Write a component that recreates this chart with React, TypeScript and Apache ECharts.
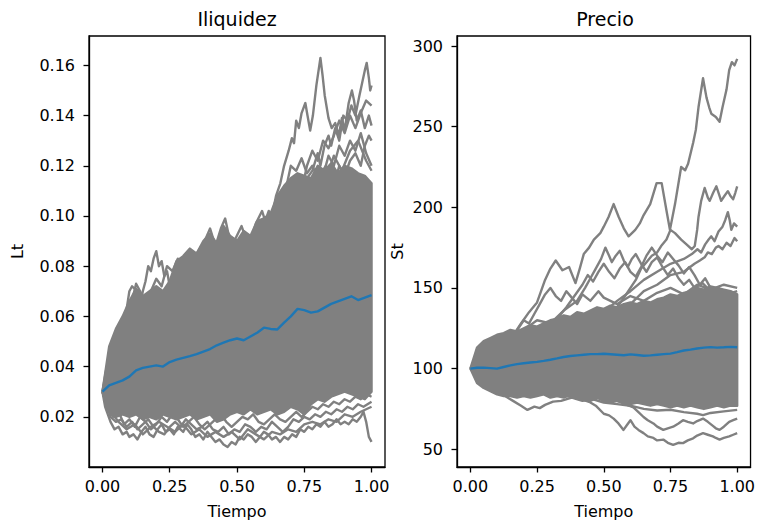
import React, { useEffect, useRef } from "react";
import * as echarts from "echarts";

// time grid
const T = [0, 0.025, 0.05, 0.075, 0.1, 0.125, 0.15, 0.175, 0.2, 0.225, 0.25, 0.275, 0.3, 0.325, 0.35, 0.375, 0.4, 0.425, 0.45, 0.475, 0.5, 0.525, 0.55, 0.575, 0.6, 0.625, 0.65, 0.675, 0.7, 0.725, 0.75, 0.775, 0.8, 0.825, 0.85, 0.875, 0.9, 0.925, 0.95, 0.975, 1];

// Iliquidez: dense envelope + mean
const lUpper = [0.030, 0.048, 0.055, 0.060, 0.066, 0.071, 0.068, 0.070, 0.072, 0.070, 0.074, 0.082, 0.084, 0.087, 0.085, 0.090, 0.093, 0.089, 0.096, 0.092, 0.090, 0.094, 0.092, 0.098, 0.099, 0.101, 0.108, 0.112, 0.115, 0.117, 0.116, 0.115, 0.120, 0.118, 0.121, 0.117, 0.120, 0.119, 0.117, 0.116, 0.113];
const lLower = [0.030, 0.022, 0.020, 0.021, 0.020, 0.021, 0.019, 0.020, 0.019, 0.021, 0.020, 0.019, 0.020, 0.021, 0.019, 0.020, 0.021, 0.018, 0.019, 0.021, 0.022, 0.021, 0.023, 0.021, 0.022, 0.023, 0.021, 0.022, 0.024, 0.023, 0.021, 0.025, 0.027, 0.026, 0.028, 0.029, 0.030, 0.029, 0.028, 0.027, 0.030];
const lMean = [0.030, 0.0325, 0.0335, 0.0345, 0.036, 0.0385, 0.0395, 0.040, 0.0405, 0.040, 0.0418, 0.0428, 0.0435, 0.0442, 0.045, 0.046, 0.047, 0.0485, 0.0495, 0.0505, 0.0512, 0.0505, 0.052, 0.0535, 0.0555, 0.055, 0.0548, 0.0575, 0.060, 0.063, 0.0625, 0.0615, 0.062, 0.0635, 0.065, 0.066, 0.067, 0.068, 0.0665, 0.0675, 0.0685];

// Iliquidez: individual outlying paths [t, value]
const lPathU1 = [[0, 0.03], [0.0125, 0.038], [0.025, 0.044], [0.04, 0.05], [0.05, 0.048], [0.065, 0.056], [0.08, 0.058], [0.09, 0.063], [0.1, 0.07], [0.11, 0.072], [0.12, 0.071], [0.13, 0.066], [0.14, 0.064], [0.15, 0.07], [0.16, 0.074], [0.17, 0.08], [0.18, 0.078], [0.19, 0.083], [0.2, 0.086], [0.21, 0.08], [0.22, 0.082], [0.23, 0.076], [0.24, 0.078], [0.25, 0.072], [0.26, 0.07], [0.27, 0.075], [0.28, 0.078], [0.29, 0.072], [0.3, 0.068], [0.32, 0.065], [0.34, 0.07], [0.36, 0.066], [0.4, 0.066], [0.5, 0.06], [0.6, 0.07], [0.7, 0.08], [0.8, 0.09], [0.9, 0.1], [1, 0.105]];
const lPathU2 = [[0, 0.03], [0.1, 0.05], [0.2, 0.06], [0.3, 0.075], [0.35, 0.085], [0.38, 0.09], [0.4, 0.095], [0.42, 0.088], [0.44, 0.095], [0.456, 0.099], [0.47, 0.092], [0.49, 0.09], [0.517, 0.096], [0.53, 0.092], [0.55, 0.09], [0.57, 0.097], [0.593, 0.102], [0.605, 0.098], [0.618, 0.102], [0.63, 0.1], [0.645, 0.108], [0.661, 0.113], [0.675, 0.12], [0.692, 0.126], [0.704, 0.131], [0.712, 0.129], [0.72, 0.138], [0.73, 0.135], [0.74, 0.141], [0.754, 0.145], [0.762, 0.14], [0.772, 0.134], [0.782, 0.14], [0.795, 0.152], [0.81, 0.163], [0.818, 0.156], [0.826, 0.148], [0.84, 0.139], [0.852, 0.135], [0.865, 0.137], [0.878, 0.132], [0.89, 0.139], [0.9, 0.134], [0.915, 0.145], [0.927, 0.15], [0.935, 0.146], [0.945, 0.138], [0.96, 0.142], [0.975, 0.135], [0.99, 0.14], [1, 0.136]];
const lPathU3 = [[0.7, 0.105], [0.72, 0.11], [0.74, 0.108], [0.76, 0.115], [0.78, 0.118], [0.8, 0.125], [0.81, 0.12], [0.825, 0.128], [0.84, 0.132], [0.85, 0.128], [0.865, 0.135], [0.88, 0.13], [0.895, 0.14], [0.91, 0.138], [0.925, 0.144], [0.94, 0.14], [0.955, 0.148], [0.965, 0.153], [0.975, 0.158], [0.982, 0.161], [0.99, 0.155], [0.995, 0.15], [1, 0.152]];
const lPathU4 = [[0.7, 0.1], [0.72, 0.104], [0.75, 0.1], [0.77, 0.108], [0.8, 0.112], [0.82, 0.108], [0.84, 0.118], [0.86, 0.112], [0.88, 0.12], [0.9, 0.116], [0.92, 0.122], [0.94, 0.125], [0.96, 0.12], [0.975, 0.128], [0.99, 0.132], [1, 0.13]];
const lPathU5 = [[0.6, 0.09], [0.63, 0.098], [0.66, 0.105], [0.68, 0.11], [0.7, 0.12], [0.72, 0.118], [0.74, 0.123], [0.76, 0.117], [0.78, 0.12], [0.8, 0.115], [0.83, 0.12], [0.86, 0.114], [0.9, 0.11], [0.95, 0.108], [1, 0.105]];
const lPathU6 = [[0.8, 0.11], [0.82, 0.116], [0.84, 0.124], [0.86, 0.12], [0.88, 0.128], [0.9, 0.124], [0.92, 0.13], [0.94, 0.126], [0.96, 0.133], [0.98, 0.125], [1, 0.12]];
const lPathU7 = [[0, 0.03], [0.03, 0.045], [0.06, 0.052], [0.09, 0.058], [0.11, 0.066], [0.125, 0.073], [0.14, 0.07], [0.16, 0.065], [0.18, 0.07], [0.2, 0.075], [0.22, 0.072], [0.24, 0.08], [0.26, 0.078], [0.28, 0.083], [0.3, 0.08], [0.33, 0.085], [0.36, 0.08], [0.4, 0.085], [0.45, 0.08], [0.5, 0.085], [0.6, 0.09], [0.7, 0.1], [0.8, 0.1], [0.9, 0.105], [1, 0.1]];
const lPathU8 = [[0.6, 0.095], [0.62, 0.1], [0.64, 0.097], [0.66, 0.104], [0.68, 0.1], [0.7, 0.108], [0.72, 0.113], [0.74, 0.11], [0.76, 0.12], [0.78, 0.126], [0.8, 0.122], [0.82, 0.13], [0.84, 0.127], [0.86, 0.132], [0.88, 0.138], [0.9, 0.133], [0.92, 0.14], [0.94, 0.135], [0.96, 0.141], [0.98, 0.146], [1, 0.144]];
const lPathU9 = [[0.65, 0.1], [0.68, 0.106], [0.71, 0.104], [0.74, 0.112], [0.77, 0.108], [0.8, 0.118], [0.83, 0.114], [0.86, 0.124], [0.89, 0.118], [0.92, 0.126], [0.95, 0.13], [0.98, 0.122], [1, 0.118]];
const lPathL1 = [[0, 0.03], [0.01, 0.024], [0.02, 0.021], [0.03, 0.018], [0.045, 0.015], [0.06, 0.016], [0.075, 0.013], [0.09, 0.014], [0.1, 0.012], [0.115, 0.013], [0.13, 0.011], [0.145, 0.014], [0.16, 0.016], [0.175, 0.013], [0.19, 0.012], [0.205, 0.015], [0.22, 0.017], [0.235, 0.014], [0.25, 0.015], [0.265, 0.013], [0.28, 0.016], [0.3, 0.014], [0.315, 0.017], [0.33, 0.015], [0.345, 0.012], [0.36, 0.013], [0.375, 0.011], [0.39, 0.014], [0.405, 0.012], [0.42, 0.01], [0.435, 0.011], [0.45, 0.009], [0.465, 0.008], [0.48, 0.01], [0.495, 0.009], [0.51, 0.012], [0.525, 0.011], [0.54, 0.013], [0.555, 0.012], [0.57, 0.01], [0.585, 0.012], [0.6, 0.014], [0.615, 0.013], [0.63, 0.011], [0.645, 0.012], [0.66, 0.01], [0.675, 0.012], [0.69, 0.011], [0.705, 0.013], [0.72, 0.012], [0.735, 0.015], [0.75, 0.014], [0.765, 0.016], [0.78, 0.015], [0.795, 0.017], [0.81, 0.016], [0.825, 0.018], [0.84, 0.016], [0.855, 0.017], [0.87, 0.019], [0.885, 0.017], [0.9, 0.018], [0.915, 0.017], [0.93, 0.019], [0.945, 0.018], [0.96, 0.02], [0.97, 0.022], [0.98, 0.018], [0.99, 0.012], [1, 0.01]];
const lPathL2 = [[0, 0.03], [0.015, 0.025], [0.03, 0.02], [0.05, 0.018], [0.07, 0.019], [0.09, 0.016], [0.11, 0.018], [0.13, 0.015], [0.15, 0.017], [0.17, 0.019], [0.19, 0.016], [0.21, 0.014], [0.23, 0.013], [0.25, 0.016], [0.27, 0.018], [0.29, 0.016], [0.31, 0.019], [0.33, 0.017], [0.35, 0.015], [0.37, 0.016], [0.39, 0.018], [0.41, 0.015], [0.43, 0.014], [0.45, 0.016], [0.47, 0.013], [0.49, 0.015], [0.51, 0.014], [0.53, 0.017], [0.55, 0.016], [0.57, 0.014], [0.59, 0.016], [0.61, 0.015], [0.63, 0.018], [0.65, 0.016], [0.67, 0.014], [0.69, 0.016], [0.71, 0.019], [0.73, 0.018], [0.75, 0.02], [0.77, 0.019], [0.79, 0.021], [0.81, 0.02], [0.83, 0.022], [0.85, 0.021], [0.87, 0.023], [0.89, 0.022], [0.91, 0.024], [0.93, 0.023], [0.95, 0.025], [0.97, 0.024], [1, 0.026]];
const lPathL3 = [[0, 0.03], [0.02, 0.023], [0.04, 0.02], [0.06, 0.022], [0.08, 0.017], [0.1, 0.019], [0.12, 0.016], [0.14, 0.02], [0.16, 0.018], [0.18, 0.015], [0.2, 0.017], [0.22, 0.02], [0.24, 0.018], [0.26, 0.021], [0.28, 0.019], [0.3, 0.016], [0.32, 0.018], [0.34, 0.02], [0.36, 0.017], [0.38, 0.015], [0.4, 0.017], [0.42, 0.019], [0.44, 0.021], [0.46, 0.018], [0.48, 0.016], [0.5, 0.018], [0.52, 0.02], [0.54, 0.019], [0.56, 0.021], [0.58, 0.018], [0.6, 0.017], [0.62, 0.019], [0.64, 0.021], [0.66, 0.019], [0.68, 0.018], [0.7, 0.02], [0.72, 0.022], [0.74, 0.02], [0.76, 0.022], [0.78, 0.024], [0.8, 0.023], [0.82, 0.025], [0.84, 0.024], [0.86, 0.026], [0.88, 0.025], [0.9, 0.027], [0.92, 0.026], [0.94, 0.028], [0.96, 0.027], [0.98, 0.029], [1, 0.028]];
const lPathL4 = [[0, 0.03], [0.03, 0.022], [0.06, 0.018], [0.09, 0.015], [0.12, 0.017], [0.15, 0.013], [0.18, 0.016], [0.21, 0.018], [0.24, 0.016], [0.27, 0.014], [0.3, 0.017], [0.33, 0.013], [0.36, 0.015], [0.39, 0.012], [0.42, 0.014], [0.45, 0.012], [0.48, 0.014], [0.51, 0.011], [0.54, 0.015], [0.57, 0.013], [0.6, 0.011], [0.63, 0.014], [0.66, 0.013], [0.69, 0.015], [0.72, 0.014], [0.75, 0.017], [0.78, 0.018], [0.81, 0.017], [0.84, 0.019], [0.87, 0.018], [0.9, 0.021], [0.93, 0.02], [0.96, 0.022], [1, 0.024]];

// Precio: dense envelope + mean
const pUpper = [100, 113, 117, 119, 121, 122, 124, 123, 125, 127, 126, 128, 130, 131, 133, 132, 135, 134, 136, 138, 137, 139, 138, 140, 141, 140, 142, 141, 143, 144, 146, 145, 147, 148, 150, 149, 151, 150, 149, 148, 146];
const pLower = [100, 91, 88, 86, 84, 83, 83, 82, 83, 82, 83, 84, 82, 83, 82, 84, 82, 81, 80, 82, 80, 79, 80, 79, 78, 79, 78, 77, 78, 77, 76, 77, 76, 77, 76, 75, 76, 77, 76, 77, 77];
const pMean = [100, 100.5, 100.6, 100.3, 100.0, 101, 102, 102.8, 103.3, 103.8, 104.2, 104.8, 105.5, 106.3, 107.2, 107.8, 108.2, 108.6, 109, 109, 109.2, 108.9, 108.6, 108.3, 108.8, 108.4, 108, 108.2, 108.6, 109, 109.3, 110.2, 111.2, 111.8, 112.5, 113, 113.3, 113.0, 113.2, 113.5, 113.2];

// Precio: individual outlying paths [t, value]
const pPathR1 = [[0, 100], [0.05, 108], [0.1, 112], [0.15, 118], [0.19, 128], [0.22, 135], [0.25, 141], [0.28, 155], [0.3, 162], [0.32, 167], [0.345, 161], [0.37, 163], [0.394, 153], [0.41, 162], [0.425, 171], [0.445, 175], [0.463, 180], [0.487, 184], [0.5, 188], [0.518, 194], [0.537, 202], [0.556, 194], [0.575, 187], [0.593, 182], [0.618, 186], [0.635, 190], [0.649, 195], [0.674, 202], [0.698, 215], [0.717, 215], [0.735, 198], [0.748, 186], [0.767, 202], [0.79, 225], [0.805, 223], [0.816, 227], [0.835, 240], [0.845, 248], [0.855, 262], [0.872, 280], [0.885, 268], [0.895, 262], [0.903, 258], [0.92, 256], [0.934, 253], [0.945, 262], [0.96, 273], [0.97, 285], [0.98, 290], [0.99, 288], [1, 292]];
const pPathR2 = [[0, 100], [0.05, 104], [0.1, 108], [0.15, 106], [0.2, 112], [0.25, 118], [0.3, 115], [0.35, 122], [0.4, 128], [0.45, 125], [0.5, 132], [0.55, 138], [0.58, 145], [0.6, 150], [0.62, 155], [0.64, 162], [0.66, 166], [0.68, 170], [0.7, 172], [0.715, 176], [0.735, 180], [0.75, 186], [0.767, 184], [0.79, 180], [0.81, 177], [0.83, 174], [0.841, 176], [0.85, 186], [0.855, 194], [0.865, 204], [0.878, 212], [0.89, 206], [0.897, 204], [0.91, 209], [0.922, 213], [0.932, 208], [0.94, 204], [0.952, 207], [0.965, 210], [0.975, 207], [0.985, 205], [0.993, 209], [1, 213]];
const pPathS = [[0.5, 135], [0.55, 142], [0.6, 148], [0.65, 155], [0.7, 160], [0.75, 165], [0.8, 168], [0.83, 171], [0.851, 174], [0.865, 172], [0.88, 177], [0.893, 180], [0.903, 182], [0.915, 179], [0.93, 185], [0.945, 188], [0.955, 192], [0.965, 197], [0.972, 192], [0.978, 186], [0.988, 190], [1, 188]];
const pPathT = [[0.6, 140], [0.65, 148], [0.7, 152], [0.75, 158], [0.8, 160], [0.84, 165], [0.86, 167], [0.878, 169], [0.89, 172], [0.905, 171], [0.92, 175], [0.93, 176], [0.945, 174], [0.96, 178], [0.975, 176], [0.99, 181], [1, 179]];
const pPathUa = [[0, 100], [0.05, 106], [0.1, 112], [0.15, 118], [0.2, 124], [0.25, 130], [0.3, 128], [0.35, 136], [0.4, 142], [0.43, 150], [0.45, 156], [0.47, 162], [0.49, 168], [0.506, 175], [0.52, 170], [0.53, 166], [0.545, 170], [0.56, 173], [0.575, 167], [0.59, 163], [0.605, 168], [0.62, 171], [0.64, 165], [0.66, 160], [0.68, 166], [0.7, 169], [0.72, 163], [0.74, 158], [0.76, 162], [0.78, 156], [0.8, 152], [0.82, 155], [0.84, 150], [0.87, 153], [0.9, 148], [0.93, 150], [0.96, 146], [1, 148]];
const pPathUb = [[0.3, 125], [0.33, 132], [0.36, 138], [0.39, 145], [0.42, 152], [0.44, 158], [0.46, 154], [0.48, 160], [0.5, 165], [0.52, 160], [0.54, 156], [0.56, 162], [0.58, 166], [0.6, 160], [0.62, 157], [0.64, 163], [0.66, 170], [0.68, 175], [0.7, 170], [0.72, 166], [0.74, 172], [0.76, 168], [0.78, 164], [0.8, 159], [0.82, 163], [0.84, 158], [0.86, 152], [0.88, 156], [0.9, 150], [0.95, 148], [1, 144]];
const pPathUc = [[0, 100], [0.05, 105], [0.1, 110], [0.15, 117], [0.18, 125], [0.2, 130], [0.22, 128], [0.24, 134], [0.26, 140], [0.28, 146], [0.3, 150], [0.32, 145], [0.34, 142], [0.36, 148], [0.38, 144], [0.4, 140], [0.42, 146], [0.45, 142], [0.48, 148], [0.5, 144], [0.55, 140], [0.6, 145], [0.65, 142], [0.7, 147], [0.75, 150], [0.8, 146], [0.85, 152], [0.9, 149], [0.95, 152], [1, 150]];
const pPathD1 = [[0, 100], [0.1, 92], [0.2, 88], [0.3, 84], [0.4, 82], [0.45, 79], [0.47, 77], [0.5, 72], [0.52, 71], [0.537, 69], [0.555, 66], [0.574, 62], [0.587, 65], [0.6, 68], [0.615, 64], [0.63, 62], [0.649, 60], [0.665, 58], [0.686, 57], [0.7, 55.5], [0.723, 56], [0.74, 54], [0.76, 52.7], [0.78, 54], [0.797, 53.8], [0.815, 55.5], [0.835, 56.8], [0.85, 58.5], [0.872, 60], [0.89, 59], [0.909, 58], [0.92, 57], [0.934, 56], [0.95, 57], [0.97, 58], [0.985, 59], [1, 60]];
const pPathD2 = [[0, 100], [0.2, 90], [0.4, 84], [0.5, 82], [0.55, 80], [0.58, 78], [0.611, 76], [0.63, 73], [0.649, 70], [0.665, 68], [0.686, 66], [0.7, 64], [0.723, 62], [0.74, 63], [0.76, 64], [0.78, 66], [0.797, 68], [0.815, 67], [0.835, 66], [0.85, 67.5], [0.872, 69], [0.89, 67], [0.909, 64.5], [0.92, 63], [0.934, 62], [0.95, 64], [0.97, 67], [0.985, 68], [1, 69]];
const pPathD3 = [[0, 100], [0.05, 92], [0.1, 86], [0.13, 83], [0.16, 80], [0.19, 77], [0.214, 74.4], [0.24, 76.4], [0.26, 75.5], [0.28, 77.5], [0.31, 79.5], [0.34, 80], [0.38, 82], [0.42, 80], [0.46, 81], [0.5, 79], [0.55, 78], [0.6, 77], [0.65, 75], [0.7, 74], [0.75, 74.5], [0.8, 73], [0.85, 72], [0.872, 71.2], [0.9, 72.5], [0.95, 73.5], [1, 74.4]];

// tick labels
const xTicks = [0, 0.25, 0.5, 0.75, 1];
const lYTicks = [0.02, 0.04, 0.06, 0.08, 0.1, 0.12, 0.14, 0.16];
const pYTicks = [50, 100, 150, 200, 250, 300];

const GRAY = "#808080";
const BLUE = "#1f77b4";
const FONT = "DejaVu Sans";
const LW = 2.4;

function bandSeries(idx: number, upper: number[], lower: number[]) {
  return {
    type: "custom",
    xAxisIndex: idx,
    yAxisIndex: idx,
    silent: true,
    z: 2,
    data: T.map((t, i) => [t, lower[i], upper[i]]),
    encode: { x: 0, y: [1, 2] },
    renderItem: (params: any, api: any) => {
      if (params.dataIndex !== 0) return null;
      const pts: number[][] = [];
      for (let i = 0; i < T.length; i++) pts.push(api.coord([T[i], upper[i]]));
      for (let i = T.length - 1; i >= 0; i--) pts.push(api.coord([T[i], lower[i]]));
      return {
        type: "polygon",
        shape: { points: pts },
        style: { fill: GRAY, stroke: GRAY, lineWidth: LW, lineJoin: "round" },
      };
    },
  };
}

function pathSeries(idx: number, data: number[][], color = GRAY, z = 3) {
  return {
    type: "line",
    xAxisIndex: idx,
    yAxisIndex: idx,
    data,
    symbol: "none",
    showSymbol: false,
    silent: true,
    z,
    lineStyle: { color, width: LW, join: "round" },
  };
}

function xAxis(idx: number) {
  return {
    type: "value",
    gridIndex: idx,
    min: -0.05,
    max: 1.05,
    name: "Tiempo",
    nameLocation: "middle",
    nameGap: 36,
    nameTextStyle: { fontFamily: FONT, fontSize: 16, color: "#000" },
    axisLine: { show: true, onZero: false, lineStyle: { color: "#000", width: 1.3 } },
    axisTick: { show: true, length: 5.5, lineStyle: { color: "#000", width: 1.3 }, customValues: xTicks },
    axisLabel: {
      show: true,
      margin: 11,
      customValues: xTicks,
      formatter: (v: number) => v.toFixed(2),
      fontFamily: FONT,
      fontSize: 16,
      color: "#000",
    },
    splitLine: { show: false },
  };
}

function yAxis(idx: number, min: number, max: number, ticks: number[], name: string, gap: number, digits: number) {
  return {
    type: "value",
    gridIndex: idx,
    min,
    max,
    name,
    nameLocation: "middle",
    nameGap: gap,
    nameTextStyle: { fontFamily: FONT, fontSize: 16, color: "#000" },
    axisLine: { show: true, onZero: false, lineStyle: { color: "#000", width: 1.3 } },
    axisTick: { show: true, length: 5.5, lineStyle: { color: "#000", width: 1.3 }, customValues: ticks },
    axisLabel: {
      show: true,
      margin: 14,
      customValues: ticks,
      formatter: (v: number) => v.toFixed(digits),
      fontFamily: FONT,
      fontSize: 16,
      color: "#000",
    },
    splitLine: { show: false },
  };
}

export default function App() {
  const ref = useRef<HTMLDivElement>(null);
  useEffect(() => {
    if (!ref.current) return;
    const chart = echarts.init(ref.current, null, { renderer: "svg" });
    const option: any = {
      animation: false,
      backgroundColor: "#ffffff",
      grid: [
        { left: 89, top: 36, width: 296, height: 431, show: true, borderColor: "#000", borderWidth: 1.3, backgroundColor: "transparent" },
        { left: 457, top: 36, width: 296, height: 431, show: true, borderColor: "#000", borderWidth: 1.3, backgroundColor: "transparent" },
      ],
      xAxis: [xAxis(0), xAxis(1)],
      yAxis: [
        yAxis(0, 0, 0.1717, lYTicks, "Lt", 64, 2),
        yAxis(1, 39, 306.2, pYTicks, "St", 52, 0),
      ],
      graphic: [
        { type: "text", x: 237, y: 9, style: { text: "Iliquidez", fontFamily: FONT, fontSize: 19, fill: "#000", align: "center", verticalAlign: "top", textAlign: "center", textVerticalAlign: "top" } },
        { type: "text", x: 605, y: 9, style: { text: "Precio", fontFamily: FONT, fontSize: 19, fill: "#000", align: "center", verticalAlign: "top", textAlign: "center", textVerticalAlign: "top" } },
      ],
      series: [
        bandSeries(0, lUpper, lLower),
        pathSeries(0, lPathU1),
        pathSeries(0, lPathU2),
        pathSeries(0, lPathU3),
        pathSeries(0, lPathU4),
        pathSeries(0, lPathU5),
        pathSeries(0, lPathU6),
        pathSeries(0, lPathU7),
        pathSeries(0, lPathU8),
        pathSeries(0, lPathU9),
        pathSeries(0, lPathL1),
        pathSeries(0, lPathL2),
        pathSeries(0, lPathL3),
        pathSeries(0, lPathL4),
        pathSeries(0, T.map((t, i) => [t, lMean[i]]), BLUE, 5),
        bandSeries(1, pUpper, pLower),
        pathSeries(1, pPathR1),
        pathSeries(1, pPathR2),
        pathSeries(1, pPathS),
        pathSeries(1, pPathT),
        pathSeries(1, pPathUa),
        pathSeries(1, pPathUb),
        pathSeries(1, pPathUc),
        pathSeries(1, pPathD1),
        pathSeries(1, pPathD2),
        pathSeries(1, pPathD3),
        pathSeries(1, T.map((t, i) => [t, pMean[i]]), BLUE, 5),
      ],
    };
    chart.setOption(option);
    return () => chart.dispose();
  }, []);
  return <div ref={ref} style={{ position: "fixed", left: 0, top: 0, width: 758, height: 524 }} />;
}
